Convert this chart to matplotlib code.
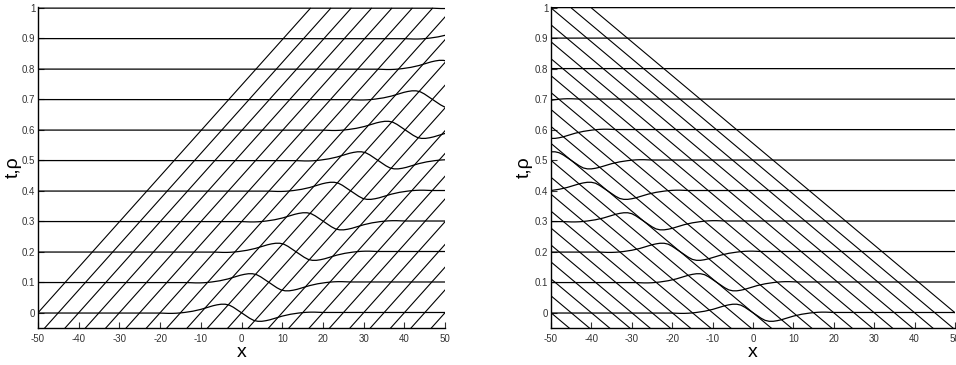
import numpy as np
import matplotlib
matplotlib.use("Agg")
import matplotlib.pyplot as plt

plt.rcParams['font.family'] = ['Liberation Sans', 'DejaVu Sans']

# ---- data ----
times = [0.0, 0.1, 0.2, 0.3, 0.4, 0.5, 0.6, 0.7, 0.8, 0.9, 1.0]
# characteristic foot points at t = 0
char_x0 = [-50, -45, -40, -35, -30, -25, -20, -15, -10, -5, 0,
           5, 10, 15, 20, 25, 30, 35, 40, 45, 50]
speed_left = 67.0    # dx/dt of characteristics / wave, left panel
speed_right = -90.0  # dx/dt, right panel
# density perturbation profile (offset from wave centre) at each level
prof_xi = [-20, -19, -18, -17, -16, -15, -14, -13, -12, -11, -10, -9, -8, -7,
           -6, -5, -4, -3, -2, -1, 0, 1, 2, 3, 4, 5, 6, 7, 8, 9, 10, 11, 12,
           13, 14, 15, 16, 17, 18, 19, 20]
prof_rho = [-0.001, -0.0015, -0.002, -0.002, -0.0015, -0.0005, 0.001, 0.003,
            0.005, 0.008, 0.011, 0.015, 0.019, 0.023, 0.026, 0.028, 0.028,
            0.025, 0.018, 0.009, 0.000, -0.009, -0.018, -0.025, -0.028,
            -0.028, -0.026, -0.023, -0.019, -0.015, -0.011, -0.008, -0.005,
            -0.003, -0.001, 0.0005, 0.0015, 0.002, 0.002, 0.0015, 0.001]
x_ticks = [-50, -40, -30, -20, -10, 0, 10, 20, 30, 40, 50]
y_ticks = [0, 0.1, 0.2, 0.3, 0.4, 0.5, 0.6, 0.7, 0.8, 0.9, 1]
y_ticklabels = ['0', '0.1', '0.2', '0.3', '0.4', '0.5', '0.6', '0.7', '0.8', '0.9', '1']

fig = plt.figure(figsize=(9.56, 3.65), dpi=100)
W, H = 956.0, 365.0
axL = fig.add_axes([38 / W, 37 / H, 407 / W, 321 / H])
axR = fig.add_axes([551 / W, 37 / H, 404 / W, 321 / H])

xi = np.array(prof_xi, dtype=float)
rho = np.array(prof_rho, dtype=float)
xmin, xmax = -50, 50
ymin, ymax = -0.05, 1.003

def draw(ax, c, label_x):
    # characteristics x = x0 + c t (clipped by the axes)
    tt = np.array([ymin - 0.01, 1.0])
    for x0 in char_x0:
        ax.plot(x0 + c * tt, tt, color='black', lw=0.8, solid_capstyle='butt')
    # density profiles at each time level
    for t in times:
        xs = np.concatenate([[xmin - 200], xi + c * t, [xmax + 200]])
        ys = t + np.concatenate([[0.0], rho, [0.0]])
        ax.plot(xs, ys, color='black', lw=0.9)
    ax.set_xlim(xmin, xmax)
    ax.set_ylim(ymin, ymax)
    ax.set_xticks(x_ticks)
    ax.set_xticklabels([str(v) for v in x_ticks])
    ax.set_yticks(y_ticks)
    ax.set_yticklabels(y_ticklabels)
    ax.tick_params(direction='in', length=4, width=0.8, labelsize=7,
                   colors='#333333', labelcolor='#333333')
    ax.tick_params(axis='y', pad=2)
    ax.tick_params(axis='x', pad=4)
    for s in ('top', 'right'):
        ax.spines[s].set_visible(False)
    for s in ('left', 'bottom'):
        ax.spines[s].set_linewidth(1.0)
    ax.set_xlabel('x', fontsize=14, labelpad=0)
    ax.set_ylabel('t,ρ', fontsize=14)
    ax.yaxis.set_label_coords(label_x, 0.5)

draw(axL, speed_left, -0.040)
draw(axR, speed_right, -0.045)

fig.savefig('out.png', dpi=100)
